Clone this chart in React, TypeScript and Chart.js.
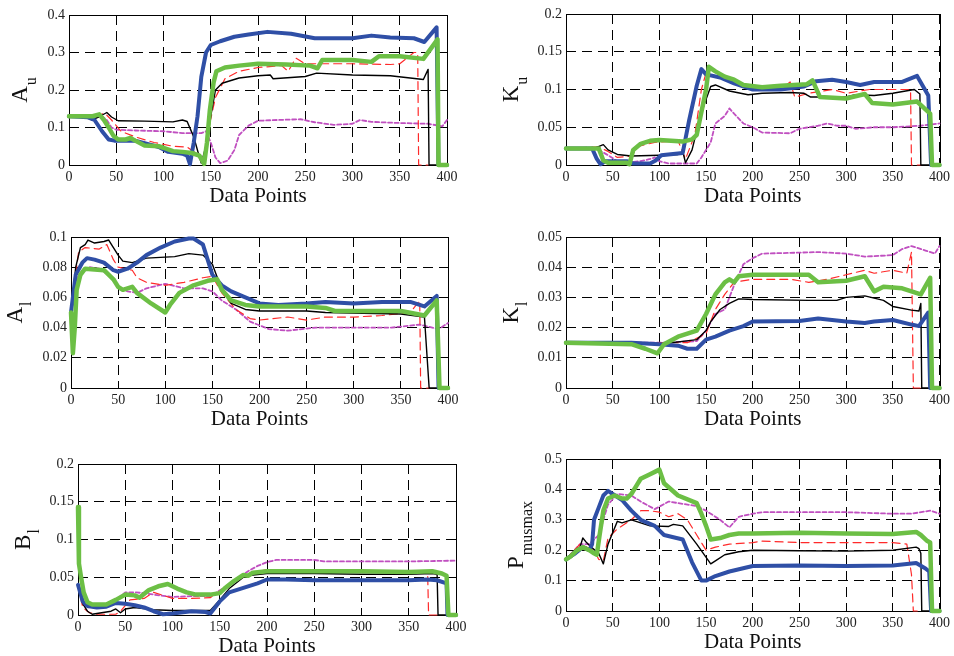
import React, { useEffect, useRef } from "react";
import { Chart, registerables } from "chart.js";
Chart.register(...registerables);

type Pts = number[][];

// ---------- data: [data point, value] ----------
const X_TICKS_MAX = 400;
const X_STEP = 50;

// A_u
const auGreen: Pts = [[0,0.13],[15,0.13],[25,0.13],[32,0.135],[37,0.12],[42,0.1],[47,0.078],[52,0.068],[60,0.068],[65,0.072],[70,0.065],[80,0.052],[95,0.05],[100,0.046],[110,0.037],[120,0.035],[130,0.032],[138,0.025],[143,0.003],[146,0.06],[149,0.145],[153,0.22],[156,0.25],[165,0.26],[180,0.265],[200,0.27],[230,0.268],[255,0.265],[263,0.258],[268,0.28],[300,0.28],[320,0.275],[328,0.29],[350,0.29],[375,0.283],[390,0.335],[391,0],[400,0]];
const auBlue: Pts = [[0,0.13],[20,0.127],[27,0.12],[35,0.09],[42,0.068],[48,0.065],[70,0.065],[85,0.055],[95,0.048],[105,0.035],[120,0.03],[125,0.025],[128,0.002],[132,0.06],[136,0.13],[140,0.235],[145,0.3],[150,0.32],[160,0.33],[175,0.342],[190,0.348],[210,0.355],[235,0.35],[260,0.338],[300,0.338],[320,0.345],[340,0.34],[365,0.338],[376,0.328],[389,0.367],[391,0],[400,0]];
const auBlack: Pts = [[0,0.13],[18,0.128],[24,0.12],[33,0.13],[40,0.14],[45,0.128],[52,0.118],[80,0.117],[110,0.115],[120,0.12],[125,0.116],[132,0.075],[137,0.03],[140,0.005],[146,0.06],[150,0.13],[155,0.2],[162,0.218],[180,0.232],[200,0.238],[213,0.24],[216,0.23],[250,0.236],[262,0.245],[300,0.24],[340,0.238],[375,0.228],[380,0.255],[381,0],[391,0]];
const auRed: Pts = [[0,0.13],[30,0.132],[38,0.138],[45,0.12],[55,0.09],[70,0.075],[90,0.06],[110,0.05],[125,0.048],[135,0.03],[142,0.002],[148,0.1],[155,0.18],[165,0.23],[180,0.25],[200,0.26],[225,0.265],[232,0.25],[240,0.285],[250,0.27],[300,0.27],[340,0.268],[350,0.27],[365,0.3],[369,0.3],[370,0],[380,0]];
const auMagenta: Pts = [[0,0.13],[35,0.13],[40,0.12],[45,0.1],[50,0.094],[70,0.092],[100,0.09],[120,0.085],[140,0.085],[145,0.09],[150,0.06],[155,0.02],[160,0.005],[168,0.012],[175,0.04],[180,0.08],[190,0.105],[200,0.118],[220,0.12],[245,0.122],[260,0.114],[280,0.107],[300,0.11],[308,0.12],[320,0.115],[350,0.112],[380,0.11],[395,0.103],[400,0.12]];

// K_u
const kuGreen: Pts = [[0,0.022],[35,0.022],[40,0.006],[45,0.003],[65,0.003],[68,0.001],[72,0.02],[80,0.028],[90,0.032],[100,0.033],[125,0.031],[135,0.034],[140,0.04],[145,0.07],[150,0.1],[153,0.13],[160,0.124],[170,0.117],[180,0.113],[190,0.106],[210,0.103],[230,0.105],[258,0.107],[264,0.112],[272,0.09],[300,0.088],[320,0.094],[328,0.082],[350,0.08],[376,0.084],[390,0.068],[392,0],[400,0]];
const kuBlue: Pts = [[0,0.022],[28,0.022],[33,0.008],[37,0.001],[42,0.005],[65,0.005],[72,0.002],[90,0.002],[96,0.006],[102,0.013],[125,0.016],[132,0.06],[140,0.105],[145,0.127],[150,0.12],[165,0.116],[180,0.108],[200,0.1],[230,0.1],[255,0.104],[268,0.111],[285,0.113],[300,0.11],[315,0.106],[330,0.11],[360,0.11],[376,0.118],[388,0.092],[391,0],[400,0]];
const kuBlack: Pts = [[0,0.022],[30,0.022],[40,0.027],[45,0.02],[55,0.014],[70,0.012],[100,0.013],[120,0.014],[125,0.018],[128,0.003],[135,0.02],[142,0.055],[148,0.08],[155,0.104],[160,0.106],[175,0.098],[195,0.093],[210,0.095],[240,0.096],[255,0.095],[262,0.09],[300,0.09],[310,0.093],[330,0.092],[350,0.095],[373,0.1],[379,0.094],[380,0],[391,0]];
const kuRed: Pts = [[0,0.022],[35,0.024],[45,0.018],[55,0.01],[70,0.012],[78,0.025],[95,0.03],[120,0.032],[128,0.008],[138,0.04],[145,0.1],[150,0.122],[165,0.115],[180,0.108],[200,0.1],[230,0.1],[240,0.11],[245,0.09],[260,0.095],[285,0.1],[300,0.095],[325,0.1],[360,0.1],[369,0.1],[370,0],[380,0]];
const kuMagenta: Pts = [[0,0.022],[30,0.022],[35,0.02],[45,0.013],[55,0.005],[60,0.003],[80,0.005],[90,0.008],[95,0.01],[100,0.005],[110,0.002],[140,0.002],[145,0.01],[155,0.03],[160,0.055],[170,0.065],[175,0.075],[180,0.068],[190,0.055],[200,0.05],[210,0.043],[240,0.042],[250,0.048],[270,0.052],[280,0.055],[290,0.052],[300,0.052],[310,0.048],[330,0.05],[350,0.05],[380,0.052],[400,0.055]];

// A_l
const alGreen: Pts = [[0,0.05],[2,0.023],[4,0.04],[6,0.065],[10,0.075],[15,0.079],[35,0.078],[45,0.072],[50,0.067],[55,0.065],[65,0.067],[70,0.063],[85,0.056],[100,0.05],[105,0.055],[115,0.063],[130,0.068],[145,0.071],[155,0.072],[160,0.065],[170,0.058],[185,0.055],[200,0.054],[250,0.054],[270,0.053],[280,0.051],[350,0.051],[375,0.048],[388,0.058],[391,0],[400,0]];
const alBlue: Pts = [[0,0.05],[5,0.075],[12,0.083],[17,0.086],[25,0.085],[35,0.083],[45,0.078],[50,0.077],[60,0.079],[70,0.083],[80,0.088],[95,0.093],[110,0.097],[125,0.099],[130,0.099],[140,0.095],[145,0.085],[150,0.075],[160,0.068],[170,0.064],[185,0.06],[200,0.056],[220,0.055],[250,0.056],[270,0.057],[300,0.056],[330,0.057],[360,0.057],[375,0.054],[388,0.061],[390,0],[400,0]];
const alBlack: Pts = [[0,0.05],[5,0.08],[10,0.093],[15,0.095],[18,0.098],[25,0.096],[35,0.097],[40,0.098],[45,0.093],[50,0.088],[55,0.084],[65,0.083],[80,0.086],[110,0.087],[125,0.089],[140,0.088],[150,0.082],[160,0.065],[170,0.056],[185,0.052],[200,0.051],[250,0.051],[270,0.05],[350,0.049],[375,0.047],[380,0],[390,0]];
const alRed: Pts = [[0,0.05],[8,0.09],[15,0.093],[30,0.092],[38,0.095],[45,0.085],[50,0.08],[65,0.078],[70,0.073],[80,0.07],[100,0.068],[120,0.07],[140,0.073],[150,0.074],[160,0.063],[175,0.052],[190,0.046],[200,0.045],[230,0.047],[250,0.045],[270,0.047],[300,0.047],[330,0.048],[360,0.05],[370,0.058],[371,0],[380,0]];
const alMagenta: Pts = [[0,0.05],[8,0.075],[20,0.08],[30,0.079],[40,0.075],[50,0.067],[60,0.064],[70,0.063],[80,0.066],[100,0.069],[120,0.066],[140,0.066],[150,0.064],[160,0.058],[175,0.052],[190,0.044],[210,0.039],[230,0.038],[260,0.04],[300,0.04],[340,0.04],[370,0.042],[390,0.039],[400,0.043]];

// K_l
const klGreen: Pts = [[0,0.015],[70,0.0145],[85,0.013],[98,0.0115],[105,0.0145],[120,0.017],[130,0.018],[140,0.019],[150,0.0245],[160,0.031],[170,0.035],[175,0.036],[180,0.035],[185,0.037],[200,0.0375],[260,0.0375],[270,0.035],[300,0.0355],[320,0.037],[330,0.032],[340,0.0335],[360,0.033],[380,0.031],[390,0.0365],[392,0],[400,0]];
const klBlue: Pts = [[0,0.015],[70,0.015],[100,0.0145],[120,0.014],[130,0.013],[140,0.013],[150,0.016],[160,0.017],[175,0.019],[190,0.0205],[200,0.022],[250,0.0222],[270,0.023],[300,0.022],[320,0.0215],[330,0.022],[350,0.0225],[370,0.021],[378,0.0205],[388,0.025],[390,0],[400,0]];
const klBlack: Pts = [[0,0.015],[100,0.0145],[140,0.016],[150,0.019],[155,0.022],[165,0.026],[175,0.028],[185,0.0295],[200,0.0293],[260,0.029],[290,0.029],[300,0.03],[320,0.0305],[340,0.029],[350,0.027],[370,0.0258],[378,0.0255],[380,0.028],[381,0],[390,0]];
const klRed: Pts = [[0,0.015],[100,0.015],[130,0.015],[150,0.018],[160,0.026],[170,0.031],[180,0.035],[200,0.036],[240,0.036],[260,0.035],[280,0.036],[300,0.0375],[320,0.039],[330,0.038],[350,0.039],[365,0.038],[370,0.045],[372,0],[380,0]];
const klMagenta: Pts = [[0,0.015],[100,0.015],[140,0.0155],[150,0.019],[160,0.0245],[170,0.026],[180,0.034],[190,0.041],[200,0.043],[210,0.0445],[270,0.045],[300,0.0445],[320,0.0435],[350,0.044],[360,0.046],[370,0.047],[385,0.0455],[395,0.0445],[400,0.047]];

// B_l
const blGreen: Pts = [[0,0.143],[1,0.068],[3,0.052],[6,0.03],[10,0.017],[15,0.014],[30,0.014],[40,0.02],[50,0.027],[60,0.026],[65,0.023],[75,0.033],[85,0.038],[95,0.041],[105,0.035],[115,0.03],[125,0.027],[140,0.027],[150,0.029],[155,0.035],[165,0.045],[175,0.053],[180,0.052],[185,0.056],[200,0.058],[250,0.058],[300,0.058],[350,0.057],[375,0.058],[385,0.055],[390,0.052],[392,0],[400,0]];
const blBlue: Pts = [[0,0.04],[5,0.018],[10,0.012],[20,0.01],[30,0.011],[40,0.016],[50,0.015],[60,0.013],[70,0.01],[80,0.005],[90,0.001],[100,0.002],[120,0.005],[135,0.004],[140,0.002],[150,0.018],[160,0.03],[175,0.036],[190,0.042],[200,0.047],[220,0.047],[250,0.046],[300,0.046],[350,0.046],[370,0.047],[380,0.046],[390,0.042],[391,0],[400,0]];
const blBlack: Pts = [[0,0.04],[5,0.015],[10,0.005],[15,0.001],[25,0.003],[35,0.005],[40,0.008],[45,0.003],[50,0.008],[60,0.01],[80,0.007],[100,0.006],[130,0.006],[140,0.006],[150,0.02],[160,0.035],[175,0.05],[185,0.053],[200,0.055],[250,0.055],[300,0.054],[350,0.054],[375,0.055],[380,0.054],[381,0],[390,0]];
const blRed: Pts = [[0,0.04],[5,0.01],[12,0.003],[20,0.001],[40,0.001],[45,0.005],[55,0.02],[70,0.022],[80,0.03],[100,0.022],[120,0.022],[140,0.023],[160,0.04],[180,0.055],[200,0.06],[220,0.06],[250,0.058],[300,0.058],[350,0.058],[365,0.057],[370,0.055],[371,0],[380,0]];
const blMagenta: Pts = [[0,0.04],[5,0.015],[10,0.01],[30,0.013],[40,0.02],[50,0.03],[60,0.03],[70,0.029],[80,0.027],[100,0.024],[120,0.025],[140,0.025],[160,0.04],[180,0.058],[190,0.065],[200,0.07],[210,0.073],[250,0.073],[260,0.071],[300,0.071],[350,0.071],[400,0.072]];

// P_musmax
const pmGreen: Pts = [[0,0.17],[5,0.18],[12,0.2],[18,0.21],[25,0.2],[30,0.19],[33,0.185],[36,0.25],[40,0.33],[45,0.37],[52,0.38],[60,0.37],[65,0.37],[70,0.385],[75,0.41],[80,0.435],[90,0.45],[100,0.465],[105,0.42],[120,0.38],[140,0.355],[145,0.32],[150,0.28],[155,0.235],[165,0.24],[175,0.25],[185,0.255],[200,0.255],[250,0.257],[300,0.255],[350,0.253],[375,0.26],[380,0.25],[387,0.23],[390,0.225],[392,0],[400,0]];
const pmBlue: Pts = [[0,0.17],[10,0.19],[18,0.21],[25,0.2],[28,0.22],[30,0.3],[35,0.34],[40,0.38],[45,0.395],[50,0.385],[60,0.365],[70,0.33],[80,0.3],[95,0.28],[105,0.25],[125,0.235],[135,0.16],[145,0.1],[150,0.1],[160,0.115],[175,0.13],[200,0.148],[250,0.15],[300,0.148],[350,0.15],[375,0.158],[385,0.14],[389,0.13],[391,0],[400,0]];
const pmBlack: Pts = [[0,0.17],[10,0.2],[15,0.21],[18,0.24],[22,0.225],[27,0.21],[35,0.19],[40,0.155],[45,0.22],[55,0.295],[60,0.29],[70,0.3],[80,0.29],[90,0.28],[110,0.278],[115,0.285],[125,0.28],[140,0.22],[155,0.155],[160,0.165],[170,0.185],[185,0.195],[200,0.2],[250,0.198],[300,0.197],[350,0.2],[375,0.21],[378,0.205],[380,0.19],[381,0],[390,0]];
const pmRed: Pts = [[0,0.17],[15,0.22],[30,0.2],[35,0.17],[40,0.165],[45,0.24],[55,0.27],[70,0.3],[80,0.33],[90,0.33],[100,0.325],[110,0.31],[120,0.32],[130,0.3],[140,0.25],[150,0.2],[160,0.21],[175,0.22],[200,0.225],[210,0.23],[250,0.225],[300,0.225],[350,0.225],[365,0.22],[370,0.12],[372,0],[380,0]];
const pmMagenta: Pts = [[0,0.17],[15,0.22],[25,0.22],[35,0.25],[45,0.35],[55,0.385],[70,0.38],[80,0.36],[95,0.335],[110,0.36],[120,0.355],[140,0.345],[150,0.33],[165,0.3],[175,0.275],[185,0.31],[200,0.32],[210,0.325],[250,0.325],[300,0.325],[350,0.32],[370,0.32],[390,0.33],[400,0.32]];

// ---------- styling ----------
const GREEN = "#6cbf45";
const BLUE = "#2f4fa6";
const BLACK = "#000000";
const RED = "#ff2a2a";
const MAGENTA = "#c04fc0";
const SERIF = '"Liberation Serif", "Times New Roman", serif';

interface Panel {
  left: number; top: number; width: number; height: number;
  pad: { top: number; right: number; yw: number; xh: number };
  yMax: number; yStep: number;
  main: string; sub: string; labelOff: number;
  series: Pts[]; // green, blue, black, red, magenta
}

const PANELS: Panel[] = [
  { left: 0, top: 0, width: 477, height: 218, pad: { top: 15, right: 30, yw: 69, xh: 53 }, yMax: 0.4, yStep: 0.1, main: "A", sub: "u", labelOff: 42, series: [auGreen, auBlue, auBlack, auRed, auMagenta] },
  { left: 477, top: 0, width: 477, height: 218, pad: { top: 14, right: 9, yw: 89, xh: 53 }, yMax: 0.2, yStep: 0.05, main: "K", sub: "u", labelOff: 48, series: [kuGreen, kuBlue, kuBlack, kuRed, kuMagenta] },
  { left: 0, top: 218, width: 477, height: 222, pad: { top: 19, right: 29, yw: 71, xh: 52 }, yMax: 0.1, yStep: 0.02, main: "A", sub: "l", labelOff: 49, series: [alGreen, alBlue, alBlack, alRed, alMagenta] },
  { left: 477, top: 218, width: 477, height: 222, pad: { top: 19, right: 9, yw: 89, xh: 52 }, yMax: 0.05, yStep: 0.01, main: "K", sub: "l", labelOff: 48, series: [klGreen, klBlue, klBlack, klRed, klMagenta] },
  { left: 0, top: 440, width: 477, height: 216, pad: { top: 24, right: 21, yw: 78, xh: 41 }, yMax: 0.2, yStep: 0.05, main: "B", sub: "l", labelOff: 48, series: [blGreen, blBlue, blBlack, blRed, blMagenta] },
  { left: 477, top: 440, width: 477, height: 216, pad: { top: 19, right: 8, yw: 89, xh: 45 }, yMax: 0.5, yStep: 0.1, main: "P", sub: "musmax", labelOff: 43, series: [pmGreen, pmBlue, pmBlack, pmRed, pmMagenta] },
];

const STYLES = [
  { color: GREEN, width: 4.5, dash: [] as number[] },
  { color: BLUE, width: 4, dash: [] as number[] },
  { color: BLACK, width: 1.4, dash: [] as number[] },
  { color: RED, width: 1.2, dash: [8, 5] },
  { color: MAGENTA, width: 1.8, dash: [4, 2.5] },
];

const decorPlugin = {
  id: "decor",
  beforeDatasetsDraw(chart: any) {
    const { ctx, chartArea: a } = chart;
    ctx.save();
    ctx.strokeStyle = "#000";
    ctx.lineWidth = 1;
    ctx.setLineDash([]);
    ctx.strokeRect(Math.round(a.left) + 0.5, Math.round(a.top) + 0.5, Math.round(a.right - a.left), Math.round(a.bottom - a.top));
    ctx.restore();
  },
  afterDraw(chart: any, _args: any, opts: any) {
    const { ctx, chartArea: a } = chart;
    ctx.save();
    ctx.fillStyle = "#111";
    ctx.font = `21px ${SERIF}`;
    ctx.textAlign = "center";
    ctx.textBaseline = "alphabetic";
    ctx.fillText("Data Points", (a.left + a.right) / 2, a.bottom + 37);

    const mainFont = `23px ${SERIF}`;
    const subFont = `16px ${SERIF}`;
    ctx.font = mainFont;
    const mw = ctx.measureText(opts.main).width;
    ctx.font = subFont;
    const sw = ctx.measureText(opts.sub).width;
    const total = mw + sw + 1;
    ctx.translate(a.left - opts.labelOff, (a.top + a.bottom) / 2);
    ctx.rotate(-Math.PI / 2);
    ctx.textAlign = "left";
    ctx.font = mainFont;
    ctx.fillText(opts.main, -total / 2, 0);
    ctx.font = subFont;
    ctx.fillText(opts.sub, -total / 2 + mw + 1, 9);
    ctx.restore();
  },
};

function fmt(v: number) {
  return String(Number(v.toFixed(3)));
}

function PanelChart({ p }: { p: Panel }) {
  const ref = useRef<HTMLCanvasElement>(null);
  useEffect(() => {
    if (!ref.current) return;
    const datasets = p.series.map((pts, i) => ({
      data: pts.map(([x, y]) => ({ x, y })),
      borderColor: STYLES[i].color,
      backgroundColor: STYLES[i].color,
      borderWidth: STYLES[i].width,
      borderDash: STYLES[i].dash,
      pointRadius: 0,
      tension: 0,
      fill: false,
      borderJoinStyle: "round" as const,
      borderCapStyle: "round" as const,
      clip: 5,
    }));
    const tickFont = { family: SERIF, size: 14 };
    const chart = new Chart(ref.current, {
      type: "line",
      data: { datasets },
      plugins: [decorPlugin],
      options: {
        responsive: false,
        animation: false,
        events: [],
        layout: { padding: { top: p.pad.top, right: p.pad.right, left: 0, bottom: 0 }, autoPadding: false } as any,
        plugins: {
          legend: { display: false },
          tooltip: { enabled: false },
          decor: { main: p.main, sub: p.sub, labelOff: p.labelOff },
        } as any,
        scales: {
          x: {
            type: "linear",
            min: 0,
            max: X_TICKS_MAX,
            ticks: { stepSize: X_STEP, color: "#222", font: tickFont, padding: 4, maxRotation: 0, autoSkip: false },
            grid: { color: "#000", lineWidth: 1, drawTicks: false },
            border: { display: false, dash: [10, 6] },
            afterFit: (s: any) => { s.height = p.pad.xh; },
          },
          y: {
            type: "linear",
            min: 0,
            max: p.yMax,
            ticks: { stepSize: p.yStep, color: "#222", font: tickFont, padding: 4, callback: (v: any) => fmt(Number(v)) },
            grid: { color: "#000", lineWidth: 1, drawTicks: false },
            border: { display: false, dash: [10, 6] },
            afterFit: (s: any) => { s.width = p.pad.yw; },
          },
        },
      },
    });
    return () => chart.destroy();
  }, [p]);
  return (
    <div style={{ position: "absolute", left: p.left, top: p.top, width: p.width, height: p.height }}>
      <canvas ref={ref} width={p.width} height={p.height} style={{ display: "block", width: p.width, height: p.height }} />
    </div>
  );
}

export default function App() {
  return (
    <div style={{ position: "absolute", left: 0, top: 0, width: 954, height: 656, background: "#fff" }}>
      {PANELS.map((p, i) => (
        <PanelChart key={i} p={p} />
      ))}
    </div>
  );
}
